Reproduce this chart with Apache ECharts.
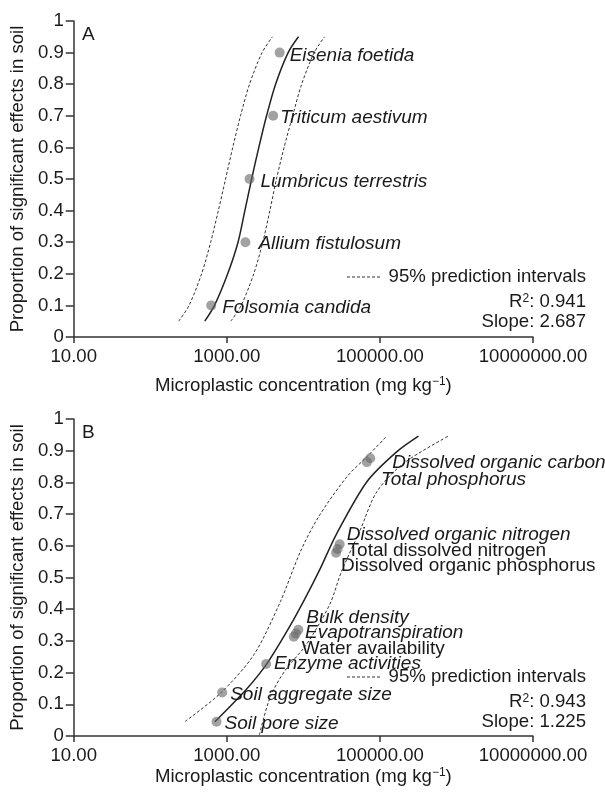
<!DOCTYPE html>
<html>
<head>
<meta charset="utf-8">
<script src="https://cdn.jsdelivr.net/npm/echarts@6/dist/echarts.min.js"></script>
<style>
  html, body { margin: 0; padding: 0; background: #fff; }
  #chart { width: 605px; height: 793px; }
</style>
</head>
<body>
<div id="chart"></div>
<script>
  // ---- panel A : species ----
  var speciesNames = ['Eisenia foetida', 'Triticum aestivum', 'Lumbricus terrestris', 'Allium fistulosum', 'Folsomia candida'];
  var speciesConc = [4900, 4030, 1980, 1750, 625];
  var speciesProp = [0.9, 0.7, 0.5, 0.3, 0.1];

  // fitted curve + 95% prediction intervals
  var curveAProp = [0.05, 0.1, 0.2, 0.3, 0.4, 0.5, 0.6, 0.7, 0.8, 0.9, 0.95];
  var fitAConc = [515, 690, 1026, 1400, 1720, 2109, 2618, 3304, 4335, 6324, 8630];
  var lowAConc = [235, 321, 468, 615, 775, 963, 1195, 1509, 1979, 2888, 3940];
  var highAConc = [1128, 1540, 2247, 2948, 3650, 4450, 5600, 7236, 9494, 13850, 18900];

  // ---- panel B : soil properties ----
  var effectNames = ['Dissolved organic carbon', 'Total phosphorus', 'Dissolved organic nitrogen', 'Total dissolved nitrogen',
    'Dissolved organic phosphorus', 'Bulk density', 'Evapotranspiration', 'Water availability', 'Enzyme activities',
    'Soil aggregate size', 'Soil pore size'];
  var effectConc = [74800, 67600, 29800, 28000, 26700, 8600, 8000, 7500, 3260, 869, 733];
  var effectProp = [0.876, 0.864, 0.605, 0.59, 0.578, 0.335, 0.323, 0.313, 0.227, 0.137, 0.045];

  var fitBConc = [697, 1841, 3357, 6427, 10620, 16670, 26670, 67610, 166700, 319200];
  var fitBProp = [0.045, 0.15, 0.229, 0.34, 0.436, 0.529, 0.634, 0.802, 0.897, 0.946];
  var lowBConc = [285, 826, 2249, 5012, 9120, 15850, 37150, 67610, 123000];
  var lowBProp = [0.046, 0.135, 0.256, 0.424, 0.581, 0.692, 0.818, 0.881, 0.946];
  var highBConc = [2661, 3707, 5821, 10090, 13610, 22490, 31620, 55340, 91410, 203200, 785200];
  var highBProp = [0.003, 0.124, 0.208, 0.277, 0.324, 0.419, 0.52, 0.65, 0.771, 0.86, 0.946];

  var xTicks = [10, 1000, 100000, 10000000];
  var fitStats = { A: { r2: '0.941', slope: '2.687' }, B: { r2: '0.943', slope: '1.225' } };

  // label placement (offset from default right-of-point position) and style
  var labelStyle = {
    'Eisenia foetida': [0, 3, 'italic'],
    'Triticum aestivum': [-3, 2, 'italic'],
    'Lumbricus terrestris': [1, 3, 'italic'],
    'Allium fistulosum': [3, 2, 'italic'],
    'Folsomia candida': [1, 2, 'italic'],
    'Dissolved organic carbon': [12, 4, 'italic'],
    'Total phosphorus': [4, 18, 'italic'],
    'Dissolved organic nitrogen': [-3, -9, 'italic'],
    'Total dissolved nitrogen': [0, 2, 'normal'],
    'Dissolved organic phosphorus': [-5, 13, 'normal'],
    'Bulk density': [-2, -12, 'italic'],
    'Evapotranspiration': [-1, -1, 'italic'],
    'Water availability': [-2, 12, 'normal'],
    'Enzyme activities': [-2, 0, 'italic'],
    'Soil aggregate size': [-2, 2, 'italic'],
    'Soil pore size': [-2, 2, 'italic']
  };

  var FONT = 'Liberation Sans, Arial, sans-serif';
  var TXT = '#1a1a1a';
  var FS = 18.6;

  function pairs(xs, ys) {
    return xs.map(function (x, i) { return [x, ys[i]]; });
  }
  function points(names, xs, ys) {
    return names.map(function (n, i) {
      var s = labelStyle[n];
      return { name: n, value: [xs[i], ys[i]], label: { offset: [s[0], s[1]], fontStyle: s[2] } };
    });
  }

  function xAxisOf(idx, gap) {
    return {
      type: 'log', gridIndex: idx, min: 10, max: 10000000,
      name: 'Microplastic concentration (mg kg{sup|\u22121})',
      nameLocation: 'middle', nameGap: gap,
      nameTextStyle: { color: TXT, fontSize: FS, fontFamily: FONT, rich: { sup: { fontSize: 12, verticalAlign: 'top' } } },
      axisLine: { show: true, lineStyle: { color: '#333', width: 1.5 } },
      axisTick: { show: true, length: 6, lineStyle: { color: '#333', width: 1.5 }, customValues: xTicks },
      axisLabel: { color: TXT, fontSize: FS, fontFamily: FONT, margin: 10, customValues: xTicks,
        formatter: function (v) { return Number(v).toFixed(2); } },
      splitLine: { show: false }, minorTick: { show: false }
    };
  }
  function yAxisOf(idx) {
    return {
      type: 'value', gridIndex: idx, min: 0, max: 1, interval: 0.1,
      name: 'Proportion of significant effects in soil', nameLocation: 'middle', nameGap: 45,
      nameTextStyle: { color: TXT, fontSize: FS, fontFamily: FONT },
      axisLine: { show: true, lineStyle: { color: '#333', width: 1.5 } },
      axisTick: { show: true, length: 8, lineStyle: { color: '#333', width: 1.5 } },
      axisLabel: { color: TXT, fontSize: FS, fontFamily: FONT, margin: 10 },
      splitLine: { show: false }
    };
  }
  function curve(idx, data, dashed) {
    return {
      type: 'line', xAxisIndex: idx, yAxisIndex: idx, data: data, symbol: 'none', smooth: 0.3, silent: true,
      lineStyle: dashed ? { color: '#333', width: 1, type: [3, 2] } : { color: '#222', width: 1.5 },
      z: 2
    };
  }
  function dots(idx, data) {
    return {
      type: 'scatter', xAxisIndex: idx, yAxisIndex: idx, data: data, symbolSize: 10,
      itemStyle: { color: 'rgba(100,100,100,0.75)' },
      label: { show: true, position: 'right', distance: 5, formatter: '{b}', color: TXT, opacity: 1,
        textBorderWidth: 0, fontSize: 19, fontFamily: FONT },
      z: 5
    };
  }
  function statsText(panel, y) {
    var txtStyle = { fill: TXT, fontSize: FS, fontFamily: FONT, align: 'right', verticalAlign: 'middle' };
    return [
      { type: 'line', shape: { x1: 347, y1: y, x2: 381, y2: y }, style: { stroke: '#333', lineWidth: 1, lineDash: [3, 2] } },
      { type: 'text', x: 586, y: y, style: Object.assign({ text: '95% prediction intervals' }, txtStyle) },
      { type: 'text', x: 586, y: y + 25, style: Object.assign({ text: 'R{sup|2}: ' + fitStats[panel].r2,
        rich: { sup: { fontSize: 12, verticalAlign: 'top' } } }, txtStyle) },
      { type: 'text', x: 586, y: y + 45, style: Object.assign({ text: 'Slope: ' + fitStats[panel].slope }, txtStyle) }
    ];
  }

  var chart = echarts.init(document.getElementById('chart'), null, { renderer: 'canvas' });
  chart.setOption({
    animation: false,
    grid: [
      { left: 73, top: 21, width: 460, height: 316 },
      { left: 73, top: 419, width: 460, height: 317 }
    ],
    xAxis: [xAxisOf(0, 39), xAxisOf(1, 31)],
    yAxis: [yAxisOf(0), yAxisOf(1)],
    series: [
      curve(0, pairs(lowAConc, curveAProp), true),
      curve(0, pairs(highAConc, curveAProp), true),
      curve(0, pairs(fitAConc, curveAProp), false),
      dots(0, points(speciesNames, speciesConc, speciesProp)),
      curve(1, pairs(lowBConc, lowBProp), true),
      curve(1, pairs(highBConc, highBProp), true),
      curve(1, pairs(fitBConc, fitBProp), false),
      dots(1, points(effectNames, effectConc, effectProp))
    ],
    graphic: [
      { type: 'text', x: 82, y: 35, style: { text: 'A', fill: TXT, fontSize: 19, fontFamily: FONT, verticalAlign: 'middle' } },
      { type: 'text', x: 82, y: 433, style: { text: 'B', fill: TXT, fontSize: 19, fontFamily: FONT, verticalAlign: 'middle' } }
    ].concat(statsText('A', 277), statsText('B', 677))
  });
</script>
</body>
</html>
